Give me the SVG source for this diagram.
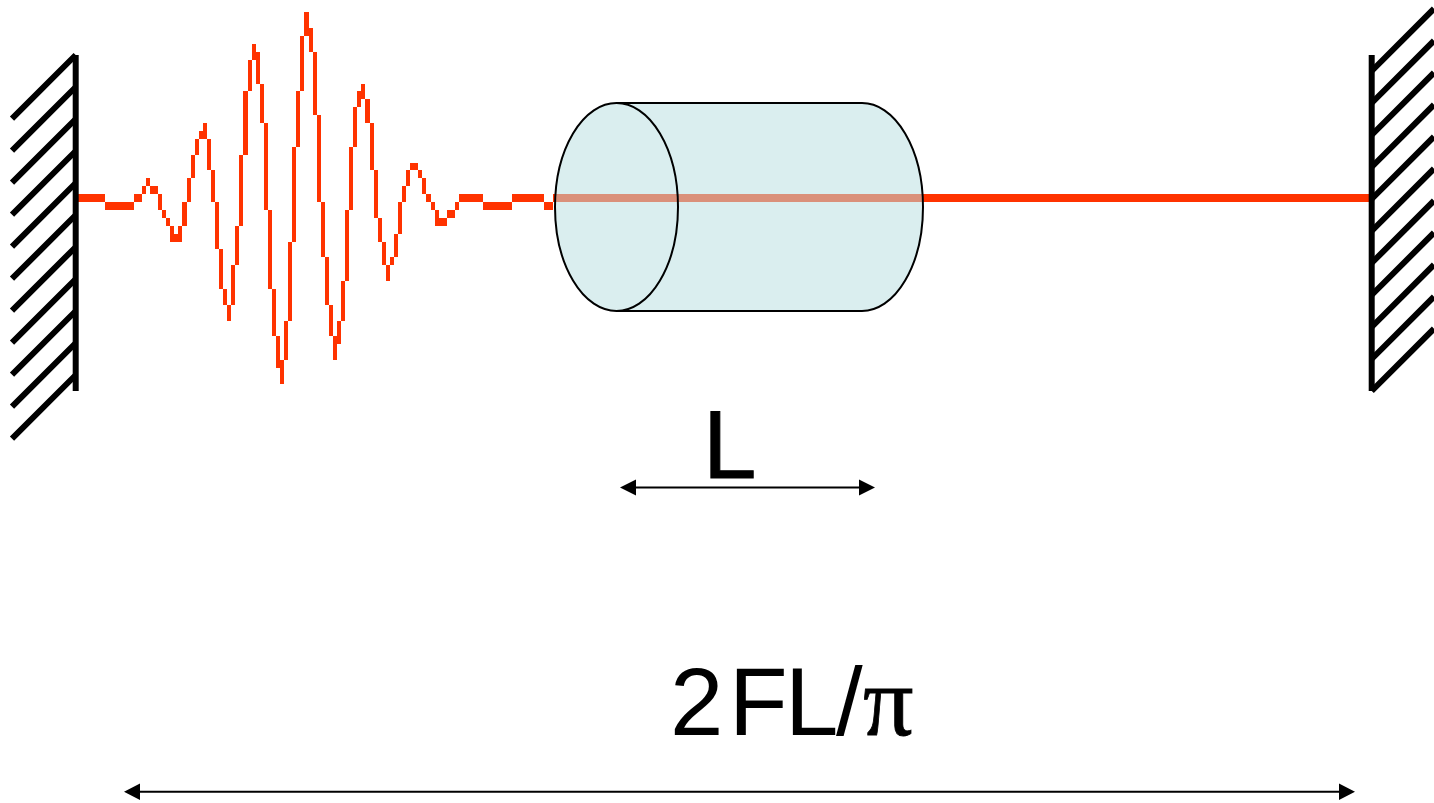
<svg xmlns="http://www.w3.org/2000/svg" width="1434" height="803" viewBox="0 0 1434 803">
<defs>
<style>
.wall{stroke:#000;stroke-width:6;fill:none}
.hatch{stroke:#000;stroke-width:6;fill:none}
.dim{stroke:#000;stroke-width:2;fill:none}
.head{fill:#000}
.lbl{font-family:"Liberation Sans",Arial,sans-serif;fill:#000}
.outline{fill:none;stroke:#000;stroke-width:2}
</style>
</defs>
<rect width="1434" height="803" fill="#fff"/>
<g id="connectors">
<path id="pulse" fill="#FF3300" shape-rendering="crispEdges" d="M78 194H105V202H78ZM105 202H134V210H105ZM134 194H142V202H134ZM142 186H146V194H142ZM146 178H150V186H146ZM150 186H158V194H150ZM158 194H162V210H158ZM162 210H166V218H162ZM166 218H170V226H166ZM170 226H174V242H170ZM174 234H178V242H174ZM178 226H182V242H178ZM182 202H187V226H182ZM187 178H191V202H187ZM191 155H195V178H191ZM195 139H199V155H195ZM199 131H203V139H199ZM203 123H207V139H203ZM207 139H211V170H207ZM211 170H215V202H211ZM215 202H219V249H215ZM219 249H223V289H219ZM223 289H227V305H223ZM227 305H231V321H227ZM231 265H235V305H231ZM235 226H239V265H235ZM239 155H243V226H239ZM243 91H248V155H243ZM248 60H252V91H248ZM252 44H256V60H252ZM256 52H260V84H256ZM260 84H264V123H260ZM264 123H268V210H264ZM268 210H272V289H268ZM272 289H276V336H272ZM276 336H280V368H276ZM280 360H284V384H280ZM284 321H288V360H284ZM288 242H292V321H288ZM292 147H296V242H292ZM296 91H300V147H296ZM300 36H304V91H300ZM304 12H309V36H304ZM309 28H313V52H309ZM313 52H317V115H313ZM317 115H321V202H317ZM321 202H325V257H321ZM325 257H329V305H325ZM329 305H333V336H329ZM333 336H337V360H333ZM337 321H341V344H337ZM341 281H345V321H341ZM345 210H349V281H345ZM349 147H353V210H349ZM353 107H357V147H353ZM357 91H361V107H357ZM361 84H365V99H361ZM365 99H370V123H365ZM370 123H374V170H370ZM374 170H378V218H374ZM378 218H382V242H378ZM382 242H386V265H382ZM386 265H390V281H386ZM390 257H394V265H390ZM394 234H398V257H394ZM398 202H402V234H398ZM402 186H406V202H402ZM406 170H410V186H406ZM410 163H418V170H410ZM418 170H422V178H418ZM422 178H426V194H422ZM426 194H431V202H426ZM431 202H435V210H431ZM435 210H439V226H435ZM439 218H447V226H439ZM447 210H455V218H447ZM455 202H459V210H455ZM459 194H483V202H459ZM483 202H512V210H483ZM512 194H544V202H512ZM544 202H553V210H544ZM553 194H1370V202H553Z"/>
</g>
<g id="cylinder">
<path d="M616.5 103H862A61 104 0 0 1 862 311H616.5A61.5 104 0 0 1 616.5 103Z" fill="#BBDFE2" fill-opacity="0.54"/>
<path class="outline" d="M616.5 103H862A61 104 0 0 1 862 311H616.5"/>
<ellipse class="outline" cx="616.5" cy="207" rx="61.5" ry="104"/>
</g>
<g id="wall-left">
<path class="hatch" d="M75.7 55L12 118.7M75.7 87L12 150.7M75.7 119L12 182.7M75.7 151L12 214.7M75.7 183L12 246.7M75.7 215L12 278.7M75.7 247L12 310.7M75.7 279L12 342.7M75.7 311L12 374.7M75.7 343L12 406.7M75.7 375L12 438.7"/>
<path class="wall" d="M75.7 55V391"/>
</g>
<g id="wall-right">
<path class="hatch" d="M1371.7 71L1434 8.7M1371.7 103L1434 40.7M1371.7 135L1434 72.7M1371.7 167L1434 104.7M1371.7 199L1434 136.7M1371.7 231L1434 168.7M1371.7 263L1434 200.7M1371.7 295L1434 232.7M1371.7 327L1434 264.7M1371.7 359L1434 296.7M1371.7 391L1434 328.7"/>
<path class="wall" d="M1371.7 55V391"/>
</g>
<g id="dim-L">
<path class="dim" d="M634 487.5H861"/>
<path class="head" d="M620 487.5L636 479.5V495.5Z M875 487.5L859 479.5V495.5Z"/>
<text class="lbl" x="703" y="478" font-size="96" stroke="#000" stroke-width="1">L</text>
</g>
<g id="dim-2FL">
<path class="dim" d="M138 791.7H1341"/>
<path class="head" d="M124 791.7L140 783.5V800Z M1355 791.7L1339 783.5V800Z"/>
<text class="lbl" font-size="96" x="670 729 785 836" y="735">2FL/</text>
<text x="863" y="735" font-size="100" fill="#000" stroke="#000" stroke-width="0.8" font-family="'Liberation Serif','Times New Roman',serif">π</text>
</g>
</svg>
